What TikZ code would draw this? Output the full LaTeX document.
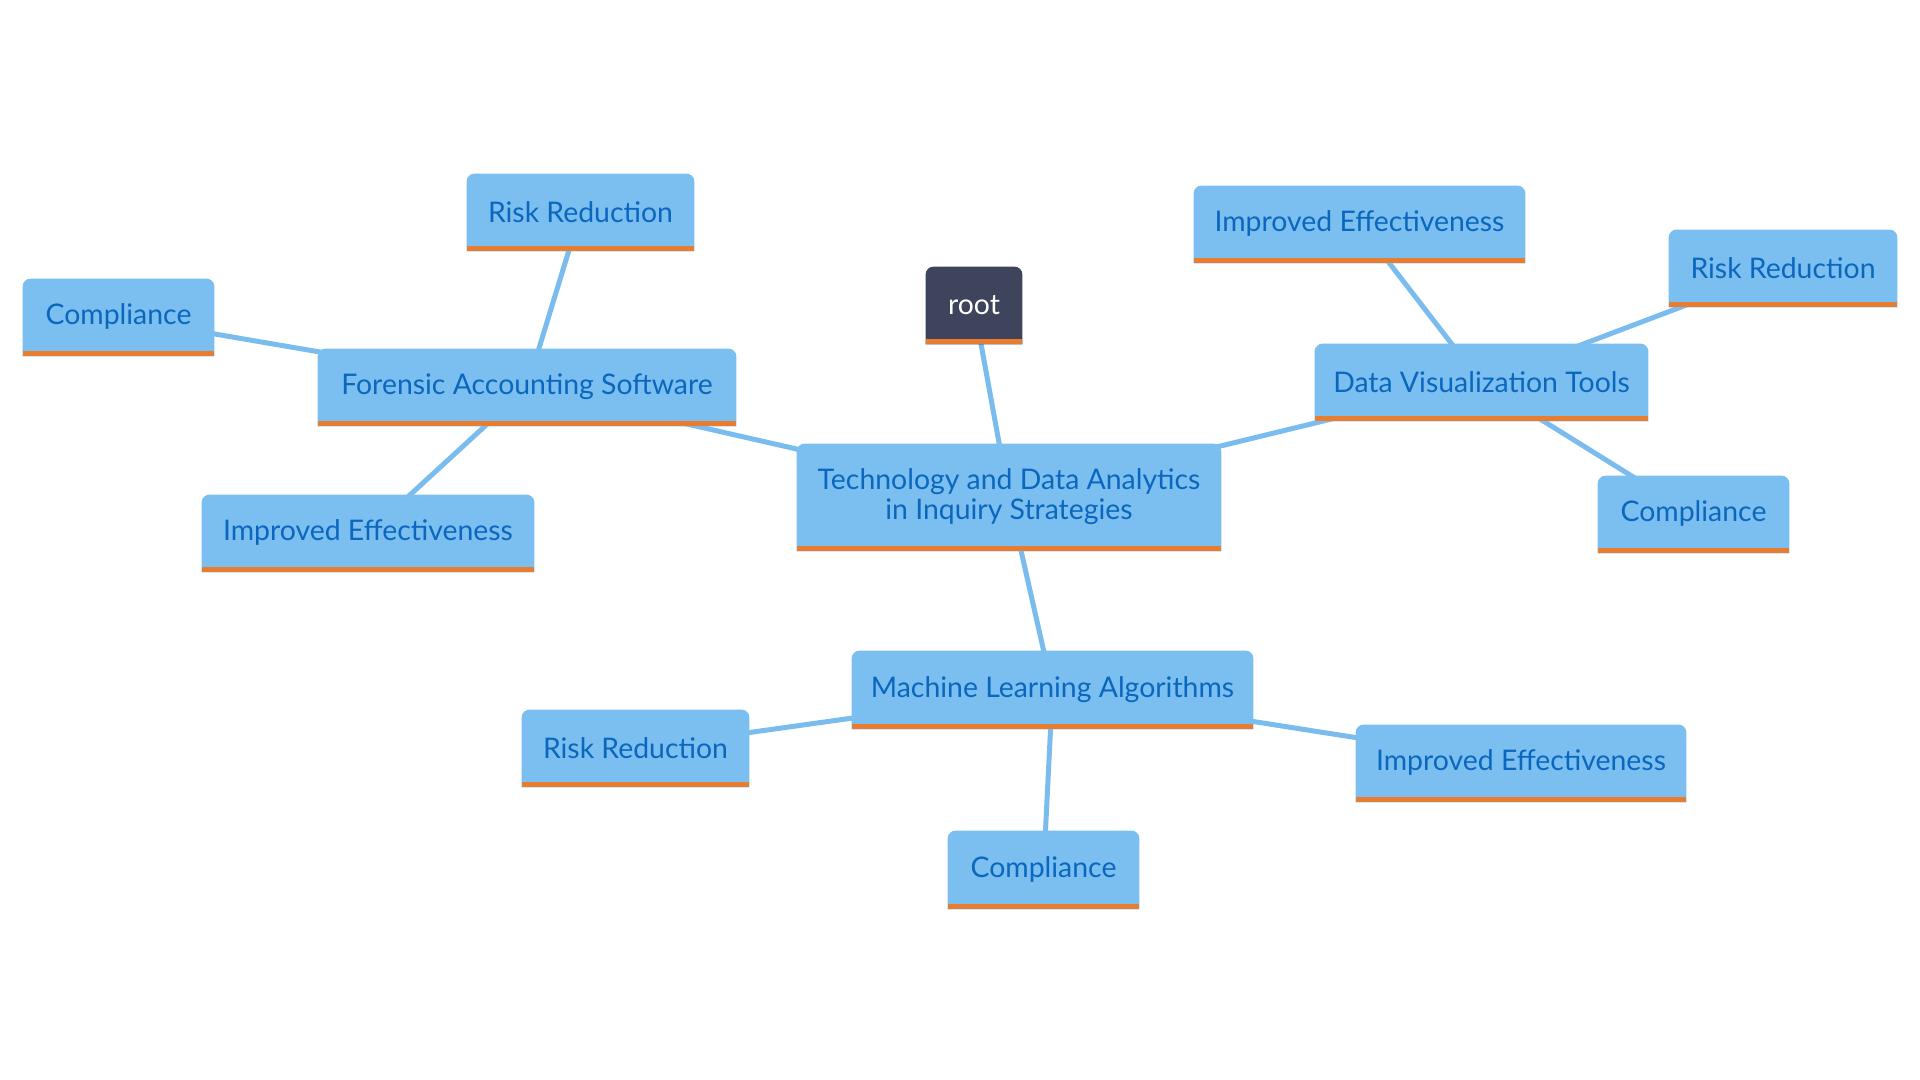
\documentclass[tikz,border=0pt]{standalone}
\usepackage{fontspec}
\setmainfont{Lato}
\usetikzlibrary{calc}
\definecolor{boxblue}{HTML}{7ABFF0}
\definecolor{txtblue}{HTML}{0B67BE}
\definecolor{rootfill}{HTML}{3E445C}
\definecolor{barorange}{HTML}{E87D2F}
\definecolor{edgeblue}{HTML}{7ABCEE}
\pgfdeclarelayer{edges}
\pgfdeclarelayer{boxes}
\pgfsetlayers{edges,boxes,main}
\tikzset{
  frame/.style={inner sep=0pt},
  lbl/.style={inner sep=0pt, font=\fontsize{14.2pt}{15.4pt}\selectfont, align=center},
  leaf/.style={lbl, text=txtblue},
  rootlbl/.style={lbl, text=white},
  link/.style={draw=edgeblue, line width=2.5pt},
  bar/.style={fill=barorange},
}
\newcommand\mmbox[8]{%
  \node[frame, minimum width={(#4-#2)*0.5pt}, minimum height={(#5-#3)*0.5pt}] (#1) at ({(#2+#4)/2},{-(#3+#5)/2}) {};
  \node[#6] (#1-text) at ([yshift=0.4pt]#1.center) {#8};
  \begin{pgfonlayer}{boxes}
    \fill[#7] (#1.south west) -- ([yshift=-4pt]#1.north west) arc[start angle=180,end angle=90,radius=4pt]
      -- ([xshift=-4pt]#1.north east) arc[start angle=90,end angle=0,radius=4pt] -- (#1.south east) -- cycle;
    \fill[bar] (#1.south west) rectangle ([yshift=2.6pt]#1.south east);
  \end{pgfonlayer}
}
\begin{document}
\begin{tikzpicture}[x=0.5pt,y=0.5pt]
\useasboundingbox (0,0) rectangle (1920,-1080);
% root and centre
\mmbox{root}{926}{267}{1022}{344}{rootlbl}{rootfill}{root}
\mmbox{tech}{797}{444}{1221}{551}{leaf}{boxblue}{Technology and Data Analytics\\in Inquiry Strategies}
% forensic
\mmbox{fas}{318}{349}{736}{426}{leaf}{boxblue}{Forensic Accounting Software}
\mmbox{far}{467}{174}{694}{251}{leaf}{boxblue}{Risk Reduction}
\mmbox{fac}{23}{279}{214}{356}{leaf}{boxblue}{Compliance}
\mmbox{fai}{202}{495}{534}{572}{leaf}{boxblue}{Improved Effectiveness}
% data viz
\mmbox{dvt}{1315}{344}{1648}{421}{leaf}{boxblue}{Data Visualization Tools}
\mmbox{dvi}{1194}{186}{1525}{263}{leaf}{boxblue}{Improved Effectiveness}
\mmbox{dvr}{1669}{230}{1897}{307}{leaf}{boxblue}{Risk Reduction}
\mmbox{dvc}{1598}{476}{1789}{553}{leaf}{boxblue}{Compliance}
% machine learning
\mmbox{mla}{852}{651}{1253}{729}{leaf}{boxblue}{Machine Learning Algorithms}
\mmbox{mlr}{522}{710}{749}{787}{leaf}{boxblue}{Risk Reduction}
\mmbox{mlc}{948}{831}{1139}{909}{leaf}{boxblue}{Compliance}
\mmbox{mli}{1356}{725}{1686}{802}{leaf}{boxblue}{Improved Effectiveness}
\begin{pgfonlayer}{edges}
  \draw[link] (root.center) -- (tech.center);
  \draw[link] (tech.center) -- (fas.center);
  \draw[link] (tech.center) -- (dvt.center);
  \draw[link] (tech.center) -- (mla.center);
  \draw[link] (fas.center) -- (far.center);
  \draw[link] (fas.center) -- (fac.center);
  \draw[link] (fas.center) -- (fai.center);
  \draw[link] (dvt.center) -- (dvi.center);
  \draw[link] (dvt.center) -- (dvr.center);
  \draw[link] (dvt.center) -- (dvc.center);
  \draw[link] (mla.center) -- (mlr.center);
  \draw[link] (mla.center) -- (mlc.center);
  \draw[link] (mla.center) -- (mli.center);
\end{pgfonlayer}
\end{tikzpicture}
\end{document}
